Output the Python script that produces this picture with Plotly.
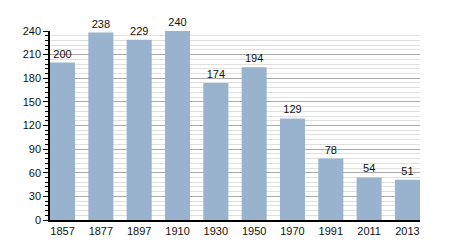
import plotly.graph_objects as go

years = ["1857", "1877", "1897", "1910", "1930", "1950", "1970", "1991", "2011", "2013"]
population = [200, 238, 229, 240, 174, 194, 129, 78, 54, 51]

w = 0.654
xpos = list(range(len(years)))

fig = go.Figure(go.Bar(
    x=xpos, y=population, width=w,
    marker=dict(color="#99b3ce", line=dict(width=0)),
    text=[str(v) for v in population], textposition="outside",
    textfont=dict(family="Liberation Sans, Arial", size=11, color="#111"),
    cliponaxis=False,
))

fig.update_layout(
    width=450, height=250,
    margin=dict(l=50, r=30, t=31, b=30),
    paper_bgcolor="white", plot_bgcolor="white",
    font=dict(family="Liberation Sans, Arial", size=11, color="#111"),
    showlegend=False,
)
fig.update_xaxes(
    range=[-w / 2, len(years) - 1 + w / 2],
    tickmode="array", tickvals=xpos, ticktext=years,
    showgrid=False, showline=True, linecolor="#000", linewidth=1.5,
    ticks="", zeroline=False, fixedrange=True,
)
fig.update_yaxes(
    range=[0, 240], tick0=0, dtick=30,
    showgrid=True, gridcolor="#aaaaaa", gridwidth=1,
    showline=True, linecolor="#000", linewidth=1.5,
    ticks="outside", ticklen=5, tickcolor="#000", tickwidth=1,
    minor=dict(dtick=6, showgrid=True, gridcolor="#e0e0e0", gridwidth=1,
               ticks="outside", ticklen=3, tickcolor="#000", tickwidth=1),
    zeroline=False, fixedrange=True,
)

fig.write_html("out.html")
